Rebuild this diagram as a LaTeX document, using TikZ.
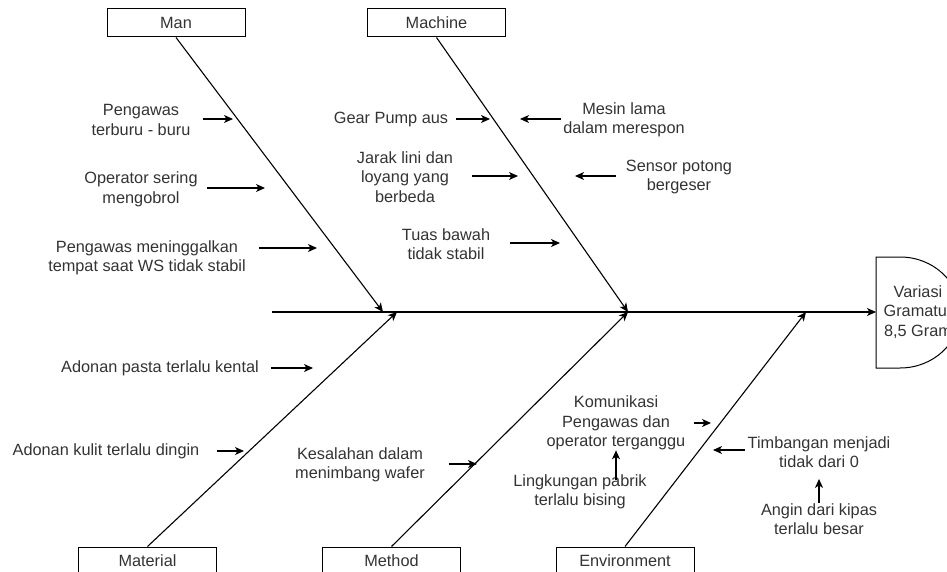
\documentclass[tikz,border=0pt]{standalone}
\usepackage{fontspec}
\setmainfont{Liberation Sans}
\usetikzlibrary{arrows.meta}

\begin{document}
\begin{tikzpicture}[x=1pt,y=-1pt,
    every node/.style={font=\fontsize{16.3}{19.5}\selectfont, text=black!80},
    cat/.style={draw, line width=1pt, minimum width=138pt, minimum height=28pt, inner sep=0pt},
    cause/.style={align=center, inner sep=0pt},
    bone/.style={line width=1.1pt, -{Stealth[length=9pt,width=8pt,inset=2.5pt]}},
    arr/.style={line width=1.1pt, -{Stealth[length=9pt,width=8pt,inset=2.5pt]}}]

\useasboundingbox (0,0) rectangle (947,572);
\clip (0,0) rectangle (947,572);

% Head (effect)
\draw[line width=1pt] (876,257) -- (900,257)
    arc[start angle=-90,end angle=90,x radius=60,y radius=55.5] -- (876,368) -- cycle;
\node[cause] (effect) at (918,312) {Variasi\\Gramatur\\8,5 Gram};

% Spine
\coordinate (tail) at (272,312);
\coordinate (head) at (876,312);
\draw[arr] (tail) -- (head);

% Category boxes
\node[cat] (man) at (176,23) {Man};
\node[cat] (machine) at (436.5,23) {Machine};
\node[cat] (material) at (147.5,561) {Material};
\node[cat] (method) at (391.5,561) {Method};
\node[cat] (environment) at (625,561) {Environment};

% Bones (joints on the spine)
\coordinate (jman) at (383,312);
\coordinate (jmachine) at (628,312);
\coordinate (jmaterial) at (397,312);
\coordinate (jmethod) at (628,312);
\coordinate (jenv) at (806,312);
\draw[bone] (man.south) -- (jman);
\draw[bone] (machine.south) -- (jmachine);
\draw[bone] (material.north) -- (jmaterial);
\draw[bone] (method.north) -- (jmethod);
\draw[bone] (environment.north) -- (jenv);

% Man causes
\node[cause] (c1) at (141,120) {Pengawas\\terburu - buru};
\node[cause] (c2) at (141,189.5) {Operator sering\\mengobrol};
\node[cause] (c3) at (147,258) {Pengawas meninggalkan\\tempat saat WS tidak stabil};
\coordinate (t1) at (233,119);
\coordinate (t2) at (265,188);
\coordinate (t3) at (317,248);
\draw[arr, shorten <=12pt] (c1.east |- t1) -- (t1);
\draw[arr, shorten <=9pt] (c2.east |- t2) -- (t2);
\draw[arr, shorten <=13pt] (c3.east |- t3) -- (t3);

% Material causes
\node[cause] (c4) at (160,368) {Adonan pasta terlalu kental};
\node[cause] (c5) at (106,451) {Adonan kulit terlalu dingin};
\coordinate (t4) at (313,368);
\coordinate (t5) at (244,451);
\draw[arr, shorten <=12pt] (c4.east |- t4) -- (t4);
\draw[arr, shorten <=17pt] (c5.east |- t5) -- (t5);

% Method causes
\node[cause] (c6) at (360,465) {Kesalahan dalam\\menimbang wafer};
\coordinate (t6) at (477,464);
\draw[arr, shorten <=24pt] (c6.east |- t6) -- (t6);

% Machine causes
\node[cause] (m1) at (391,120) {Gear Pump aus};
\node[cause] (m2) at (624,120) {Mesin lama\\dalam merespon};
\node[cause] (m3) at (405,177) {Jarak lini dan\\loyang yang\\berbeda};
\node[cause] (m4) at (679,177) {Sensor potong\\bergeser};
\node[cause] (m5) at (446,244) {Tuas bawah\\tidak stabil};
\coordinate (u1) at (490,119);
\coordinate (u2) at (520,119);
\coordinate (u3) at (518,176);
\coordinate (u4) at (575,176);
\coordinate (u5) at (560,243);
\draw[arr, shorten <=8pt] (m1.east |- u1) -- (u1);
\draw[arr, shorten <=2pt] (m2.west |- u2) -- (u2);
\draw[arr, shorten <=19pt] (m3.east |- u3) -- (u3);
\draw[arr, shorten <=10pt] (m4.west |- u4) -- (u4);
\draw[arr, shorten <=20pt] (m5.east |- u5) -- (u5);

% Environment causes
\node[cause] (e1) at (616,423) {Komunikasi\\Pengawas dan\\operator terganggu};
\node[cause] (e2) at (580,492) {Lingkungan pabrik\\terlalu bising};
\node[cause] (e3) at (819,452) {Timbangan menjadi\\tidak dari 0};
\node[cause] (e4) at (819,519) {Angin dari kipas\\terlalu besar};
\coordinate (v1) at (711,423);
\coordinate (v3) at (713,450);
\draw[arr, shorten <=8pt] (e1.east |- v1) -- (v1);
\draw[arr, shorten <=3pt] (e3.west |- v3) -- (v3);
\draw[arr, shorten <=-6pt] (e2.north -| e1.south) -- (e1.south);
\draw[arr, shorten >=11pt] (e4.north) -- (e3.south);

\end{tikzpicture}
\end{document}
